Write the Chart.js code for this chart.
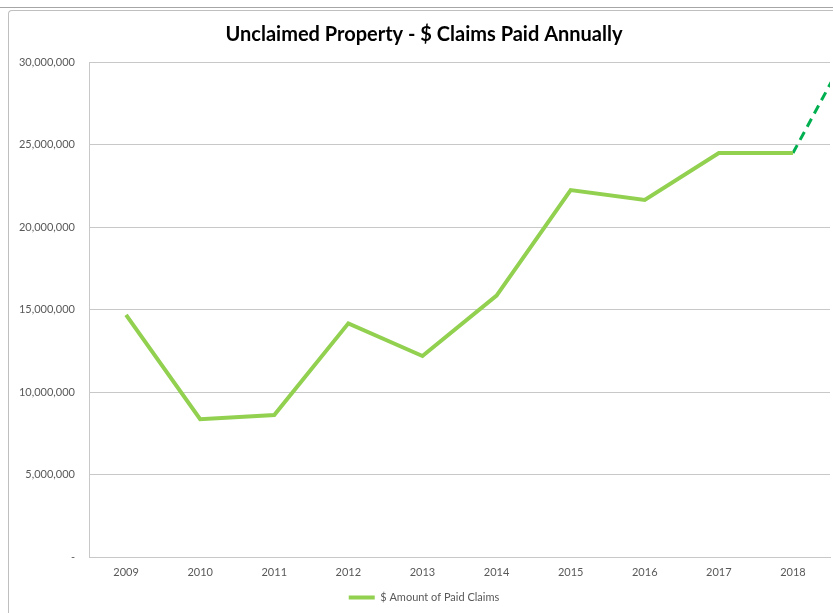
<!DOCTYPE html>
<html>
<head>
<meta charset="utf-8">
<title>Unclaimed Property - $ Claims Paid Annually</title>
<script src="https://cdn.jsdelivr.net/npm/chart.js@4/dist/chart.umd.min.js"></script>
<style>
  html, body { margin: 0; padding: 0; background: #fff; overflow: hidden; }
  body { width: 833px; height: 613px; position: relative; }
  #topLine { position: absolute; left: 0; top: 7px; width: 833px; height: 1px; background: #a6a6a6; }
  #frame {
    position: absolute; left: 8px; top: 10px; width: 900px; height: 700px;
    border-left: 1px solid #bfbfbf; border-top: 1px solid #bfbfbf;
    border-top-left-radius: 4px;
  }
  #wrap { position: absolute; left: 9px; top: 10px; width: 834px; height: 603px; }
</style>
</head>
<body>
<div id="topLine"></div>
<div id="frame"></div>
<div id="wrap"><canvas id="chart"></canvas></div>

<script>
// values
let years = [2009, 2010, 2011, 2012, 2013, 2014, 2015, 2016, 2017, 2018]
let paidClaims = [14670000, 8350000, 8600000, 14160000, 12180000, 15840000, 22240000, 21640000, 24480000, 24480000]

// dashed projection past 2018 (runs off the plot edge)
let projYears = [2018, 2019]
let projClaims = [24480000, 32800000]

let seriesLabel = '$ Amount of Paid Claims'
let titleText = 'Unclaimed Property - $ Claims Paid Annually'

const FONT = 'Lato, "Open Sans", "DejaVu Sans", sans-serif'
const TEXT_GREY = '#595959'
const GRID_GREY = '#c8c8c8'

let solidPoints = years.map((y, i) => ({ x: y, y: paidClaims[i] }))
let dashPoints = projYears.map((y, i) => ({ x: y, y: projClaims[i] }))

let ctx = document.getElementById('chart').getContext('2d')

let globalChart = new Chart(ctx, {
    type: 'line',
    data: {
        datasets: [{
            label: seriesLabel,
            data: solidPoints,
            borderColor: '#92d050',
            backgroundColor: '#92d050',
            borderWidth: 4,
            pointRadius: 0,
            tension: 0
        }, {
            label: 'projection',
            data: dashPoints,
            borderColor: '#00b050',
            backgroundColor: '#00b050',
            borderWidth: 3,
            borderDash: [9, 6],
            pointRadius: 0,
            tension: 0
        }]
    },
    options: {
        responsive: true,
        maintainAspectRatio: false,
        animation: false,
        layout: { padding: { left: 9, right: 13, top: 0, bottom: 0 } },
        plugins: {
            title: {
                display: true,
                text: titleText,
                color: '#000',
                font: { family: FONT, size: 20, weight: 'bold' },
                padding: { top: 13, bottom: 15 }
            },
            legend: {
                display: true,
                position: 'bottom',
                labels: {
                    color: TEXT_GREY,
                    font: { family: FONT, size: 11 },
                    boxWidth: 26,
                    boxHeight: 4,
                    padding: 10,
                    generateLabels: (chart) => [{
                        text: seriesLabel,
                        fillStyle: '#92d050',
                        strokeStyle: '#92d050',
                        lineWidth: 0,
                        datasetIndex: 0,
                        fontColor: TEXT_GREY
                    }]
                }
            },
            tooltip: { enabled: false }
        },
        scales: {
            x: {
                type: 'linear',
                min: 2008.5,
                max: 2018.5,
                grid: { display: false, drawTicks: false },
                border: { display: true, color: GRID_GREY, width: 1 },
                afterBuildTicks: (scale) => {
                    scale.ticks = years.map(v => ({ value: v }))
                },
                ticks: {
                    autoSkip: false,
                    maxRotation: 0,
                    padding: 9,
                    color: TEXT_GREY,
                    font: { family: FONT, size: 11 },
                    callback: (v) => String(v)
                },
                afterFit: (scale) => { scale.height = 25 }
            },
            y: {
                min: 0,
                max: 30000000,
                grid: { color: GRID_GREY, drawTicks: false },
                border: { display: true, color: GRID_GREY, width: 1 },
                ticks: {
                    stepSize: 5000000,
                    padding: 14,
                    color: TEXT_GREY,
                    font: { family: FONT, size: 11 },
                    callback: (v) => v === 0 ? '-' : v.toLocaleString('en-US')
                },
                afterFit: (scale) => { scale.width = 71 }
            }
        }
    }
})
</script>
</body>
</html>
